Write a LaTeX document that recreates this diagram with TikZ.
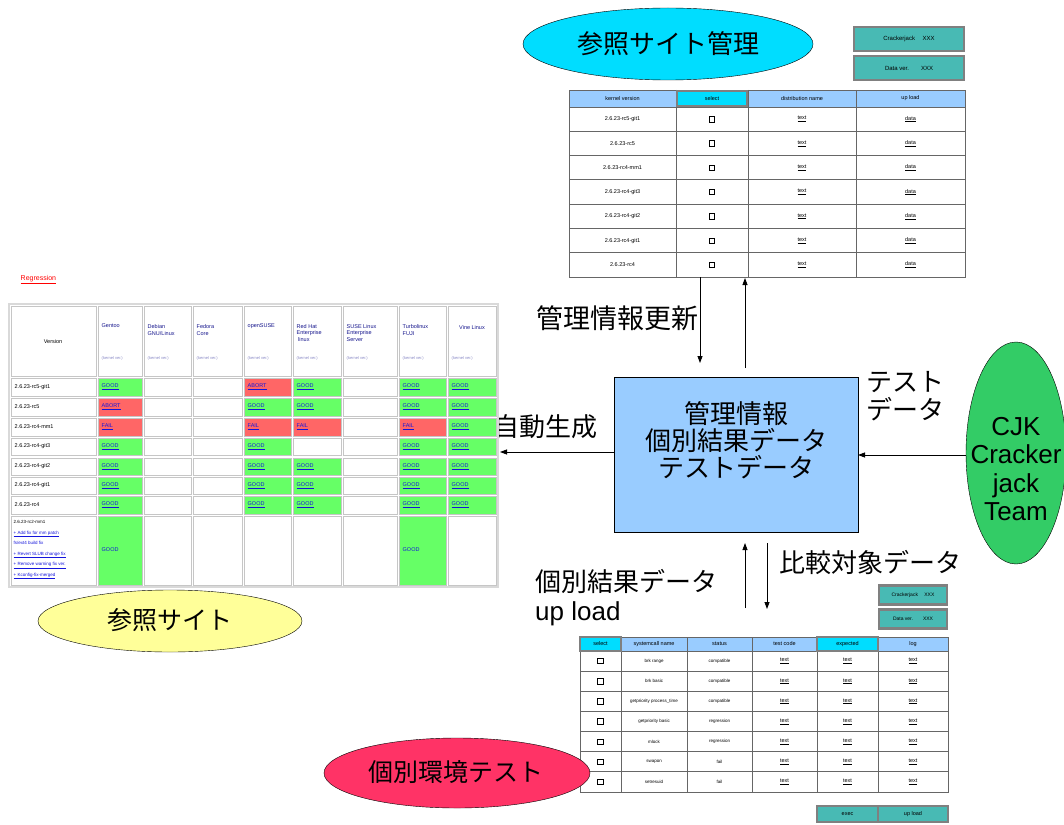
\documentclass[tikz,border=0pt]{standalone}
\usepackage{fontspec}
\setmainfont{Liberation Sans}
\newfontfamily\jp{Noto Sans CJK JP}
\usetikzlibrary{arrows.meta,shapes.geometric}
\definecolor{cyanE}{RGB}{0,221,255}
\definecolor{hdrblue}{RGB}{153,204,255}
\definecolor{tealB}{RGB}{72,186,180}
\definecolor{cg}{RGB}{102,255,102}
\definecolor{cr}{RGB}{255,102,102}
\definecolor{cw}{RGB}{255,255,255}
\definecolor{yellowE}{RGB}{255,255,153}
\definecolor{pinkE}{RGB}{255,51,102}
\definecolor{greenE}{RGB}{51,204,102}
\definecolor{linkblue}{RGB}{20,20,220}
\definecolor{navy}{RGB}{20,20,140}
\def\txtg{GOOD}
\def\txtw{}
\begin{document}
\begin{tikzpicture}[x=1pt,y=-1pt,
  tiny/.style={font=\fontsize{5.5}{6.5}\selectfont, inner sep=0.5pt},
  tinyl/.style={tiny, anchor=west},
  big/.style={font=\jp\fontsize{26}{28}\selectfont, inner sep=0},
  arr/.style={-{Triangle[length=7pt,width=5pt]}, line width=0.8pt},
  tealbox/.style={draw=gray, fill=tealB, line width=2.5pt, inner sep=0},
  chk/.style={draw, line width=0.8pt, minimum size=5.5pt, inner sep=0},
  grid1/.style={draw=gray!80!black, line width=0.9pt},
  lgrid/.style={draw=gray!45, line width=1pt}]
\useasboundingbox (0,0) rectangle (1064,824);
\fill[white] (0,0) rectangle (1064,824);

% ---------- top ellipse ----------
\node[ellipse, draw, fill=cyanE, minimum width=290, minimum height=72, inner sep=0] (refmgr) at (668,44) {};
\node[big] (refmgrt) at (668,44) {参照サイト管理};

% ---------- top-right boxes ----------
\node[tealbox, minimum width=110, minimum height=24] (cj1) at (909,39) {};
\node[tiny, font=\fontsize{6}{7}\selectfont] (cj1t) at (909,39) {Crackerjack\quad\ XXX};
\node[tealbox, minimum width=110, minimum height=24] (dv1) at (909,68) {};
\node[tiny, font=\fontsize{6}{7}\selectfont] (dv1t) at (909,68) {Data ver.\qquad XXX};

% ---------- top table ----------
\fill[hdrblue] (569,90) rectangle (965,107);
\foreach \i in {1,...,6} \draw[grid1] (569,{107+24.3*\i}) -- (965,{107+24.3*\i});
\draw[grid1] (569,107) -- (965,107);
\foreach \x in {676,748,856} \draw[grid1] (\x,90) -- (\x,277);
\draw[grid1] (569,90) rectangle (965,277);
\node[draw=gray, fill=cyanE, line width=2pt, minimum width=70, minimum height=15, inner sep=0] (selh) at (712,98.5) {};
\node[tiny] (h1) at (622.5,98.5) {kernel version};
\node[tiny] (h2) at (712,98.5) {select};
\node[tiny] (h3) at (802,98.5) {distribution name};
\node[tiny] (h4) at (910.5,98.5) {up load};
\foreach \v [count=\i from 0] in {2.6.23-rc5-git1,2.6.23-rc5,2.6.23-rc4-mm1,2.6.23-rc4-git3,2.6.23-rc4-git2,2.6.23-rc4-git1,2.6.23-rc4} {
  \pgfmathsetmacro\yy{119.2+24.3*\i}
  \node[tiny] (kv\i) at (622.5,\yy) {\v};
  \node[chk] (ks\i) at (712,\yy) {};
  \node[tiny] (kt\i) at (802,\yy) {\underline{text}};
  \node[tiny] (kd\i) at (910.5,\yy) {\underline{data}};
}
\coordinate (ta) at (700,277);
\coordinate (tb) at (700,363);
\coordinate (tc) at (745,368);
\coordinate (td) at (745,278);

% ---------- center box ----------
\node[draw, fill=hdrblue, line width=0.8pt, minimum width=244, minimum height=155, inner sep=0] (mgr) at (736,455) {};
\node[big, align=center, font=\jp\fontsize{26}{27}\selectfont] (mgrt) at (736,440) {管理情報\\個別結果データ\\テストデータ};

\draw[arr] (ta) -- (tb);
\draw[arr] (tc) -- (td);
\node[big, anchor=west, font=\jp\fontsize{27}{28}\selectfont] (l1) at (536,318) {管理情報更新};

% ---------- left arrow ----------
\coordinate (la) at (500,452);
\draw[arr] (mgr.west |- la) -- (la);
\node[big, anchor=west] (l2) at (493,427) {自動生成};

% ---------- right ellipse ----------
\node[ellipse, draw, fill=greenE, minimum width=100, minimum height=222, inner sep=0] (cjk) at (1016,453) {};
\node[align=center, font=\fontsize{26}{28.5}\selectfont, inner sep=0] (cjkt) at (1016,469) {CJK\\Cracker\\jack\\Team};
\coordinate (ra) at (858,455);
\draw[arr] (cjk.west |- ra) -- (ra);
\node[big, anchor=west, align=left] (l3) at (866,396) {テスト\\データ};

% ---------- bottom arrows ----------
\coordinate (ba) at (745,608);
\coordinate (bb) at (745,543);
\coordinate (bc) at (767,543);
\coordinate (bd) at (767,609);
\draw[arr] (ba) -- (bb);
\draw[arr] (bc) -- (bd);
\node[big, anchor=west] (l4) at (779,562) {比較対象データ};
\node[anchor=west, align=left, inner sep=0, font=\fontsize{26}{29}\selectfont] (l5) at (535,598) {{\jp\fontsize{26}{29}\selectfont 個別結果データ}\\up load};

% ---------- left table ----------
\node[tinyl, font=\fontsize{7}{8}\selectfont, text=red] (reg) at (20,280) {\underline{Regression}};
\fill[gray!30] (8,303) rectangle (499,588);
\fill[white] (10,305) rectangle (497,586);
% header
\foreach \xa/\xb in {10/97,97/143,143/192,192/243,243/292,292/342,342/398,398/447,447/497}
  \draw[lgrid, fill=white] (\xa+1,306) rectangle (\xb-1,376);
\node[tiny] (lh0) at (53,342) {Version};
\node[tinyl, text=navy, align=left] (lh1) at (101,326) {Gentoo};
\node[tinyl, text=navy, align=left] (lh2) at (147,330) {Debian\\GNU/Linux};
\node[tinyl, text=navy, align=left] (lh3) at (196,330) {Fedora\\Core};
\node[tinyl, text=navy, align=left] (lh4) at (247,326) {openSUSE};
\node[tinyl, text=navy, align=left] (lh5) at (296,333) {Red Hat\\Enterprise\\\ linux};
\node[tinyl, text=navy, align=left] (lh6) at (346,333) {SUSE Linux\\Enterprise\\Server};
\node[tinyl, text=navy, align=left] (lh7) at (402,330) {Turbolinux\\FUJI};
\node[tiny, text=navy] (lh8) at (472,328) {Vine Linux};
\foreach \x [count=\k] in {101,147,196,247,296,346,402,451}
  \node[tinyl, text=navy!50, font=\fontsize{4}{5}\selectfont] (ls\k) at (\x,358) {(kernel ver.)};
% rows
\foreach \r/\ya/\yb/\ver/\rt/\ca/\cb/\cc/\cd/\ce/\cf/\cg/\ch in {
  1/377/397/2.6.23-rc5-git1/ABORT/g/w/w/r/g/w/g/g,
  2/397/417/2.6.23-rc5/ABORT/r/w/w/g/g/w/g/g,
  3/417/437/2.6.23-rc4-mm1/FAIL/r/w/w/r/r/w/r/g,
  4/437/456/2.6.23-rc4-git3/FAIL/g/w/w/g/w/w/g/g,
  5/457/476/2.6.23-rc4-git2/FAIL/g/w/w/g/g/w/g/g,
  6/476/495/2.6.23-rc4-git1/FAIL/g/w/w/g/g/w/g/g,
  7/495/515/2.6.23-rc4/FAIL/g/w/w/g/g/w/g/g} {
  \draw[lgrid, fill=white] (11,\ya+1) rectangle (96,\yb-1);
  \node[tinyl] (lv\r) at (14,{(\ya+\yb)/2}) {\ver};
  \def\txtr{\rt}
  \foreach \xa/\xb/\c/\k in {97/143/\ca/1,143/192/\cb/2,192/243/\cc/3,243/292/\cd/4,292/342/\ce/5,342/398/\cf/6,398/447/\cg/7,447/497/\ch/8} {
    \draw[lgrid, fill=c\c] (\xa+1,\ya+1) rectangle (\xb-1,\yb-1);
    \node[tinyl, text=linkblue] (lc\r-\k) at (\xa+4,{(\ya+\yb)/2}) {\underline{\csname txt\c\endcsname}};
  }
}
% last tall row
\draw[lgrid, fill=white] (11,516) rectangle (96,585);
\node[tinyl, align=left, font=\fontsize{4.5}{10.5}\selectfont] (lv8) at (13,550) {2.6.23-rc2-mm1\\
  \textcolor{linkblue}{\underline{+ Add fix for mm patch}}\\
  \textcolor{linkblue}{fs/ext4 build fix}\\
  \textcolor{linkblue}{\underline{+ Revert SLUB change fix}}\\
  \textcolor{linkblue}{\underline{+ Remove warning fix ver.}}\\
  \textcolor{linkblue}{\underline{+ Kconfig-fix-merged}}};
\foreach \xa/\xb/\c/\k in {97/143/g/1,143/192/w/2,192/243/w/3,243/292/w/4,292/342/w/5,342/398/w/6,398/447/g/7,447/497/w/8} {
  \draw[lgrid, fill=c\c] (\xa+1,516) rectangle (\xb-1,585);
  \node[tinyl, text=linkblue] (lc8-\k) at (\xa+4,550) {\csname txt\c\endcsname};
}

% ---------- yellow ellipse ----------
\node[ellipse, draw, fill=yellowE, minimum width=264, minimum height=62, inner sep=0] (ref) at (170,621) {};
\node[big, font=\jp\fontsize{25}{27}\selectfont] (reft) at (170,620) {参照サイト};

% ---------- bottom boxes ----------
\node[tealbox, minimum width=68, minimum height=19] (cj2) at (913,595) {};
\node[tiny, font=\fontsize{5}{6}\selectfont] (cj2t) at (913,595) {Crackerjack\quad\ XXX};
\node[tealbox, minimum width=68, minimum height=19] (dv2) at (913,619) {};
\node[tiny, font=\fontsize{5}{6}\selectfont] (dv2t) at (913,619) {Data ver.\qquad XXX};

% ---------- bottom table ----------
\fill[hdrblue] (580,637) rectangle (948,651);
\foreach \i in {0,...,6} \draw[grid1] (580,{651+20.14*\i}) -- (948,{651+20.14*\i});
\foreach \x in {621,687,752,817,878} \draw[grid1] (\x,637) -- (\x,792);
\draw[grid1] (580,637) rectangle (948,792);
\node[draw=gray, fill=cyanE, line width=2pt, minimum width=41, minimum height=14, inner sep=0] (bsel) at (600.5,644) {};
\node[draw=gray, fill=cyanE, line width=2pt, minimum width=61, minimum height=14, inner sep=0] (bexp) at (847.5,644) {};
\node[tiny] (bh1) at (600.5,644) {select};
\node[tiny] (bh2) at (654,644) {systemcall name};
\node[tiny] (bh3) at (719.5,644) {status};
\node[tiny] (bh4) at (784.5,644) {test code};
\node[tiny] (bh5) at (847.5,644) {expected};
\node[tiny] (bh6) at (913,644) {log};
\foreach \n/\s [count=\i from 0] in {brk range/compatible,brk basic/compatible,getpriority process\_time/compatible,getpriority basic/regression,mlock/regression,swapon/fail,setresuid/fail} {
  \pgfmathsetmacro\yy{661.1+20.14*\i}
  \node[chk] (bs\i) at (600.5,\yy) {};
  \node[tiny, font=\fontsize{4.5}{5}\selectfont] (bn\i) at (654,\yy) {\n};
  \node[tiny, font=\fontsize{4.5}{5}\selectfont] (bt\i) at (719.5,\yy) {\s};
  \node[tiny] (bc\i) at (784.5,\yy) {\underline{text}};
  \node[tiny] (be\i) at (847.5,\yy) {\underline{text}};
  \node[tiny] (bl\i) at (913,\yy) {\underline{text}};
}

% ---------- pink ellipse ----------
\node[ellipse, draw, fill=pinkE, minimum width=266, minimum height=70, inner sep=0] (indiv) at (457,773) {};
\node[big, font=\jp\fontsize{25}{27}\selectfont] (indivt) at (456,772) {個別環境テスト};

% ---------- bottom buttons ----------
\node[tealbox, minimum width=61, minimum height=16] (exec) at (847.5,814) {};
\node[tiny] (exect) at (847.5,814) {exec};
\node[tealbox, minimum width=70, minimum height=16] (upl) at (913,814) {};
\node[tiny] (uplt) at (913,814) {up load};
\end{tikzpicture}
\end{document}
